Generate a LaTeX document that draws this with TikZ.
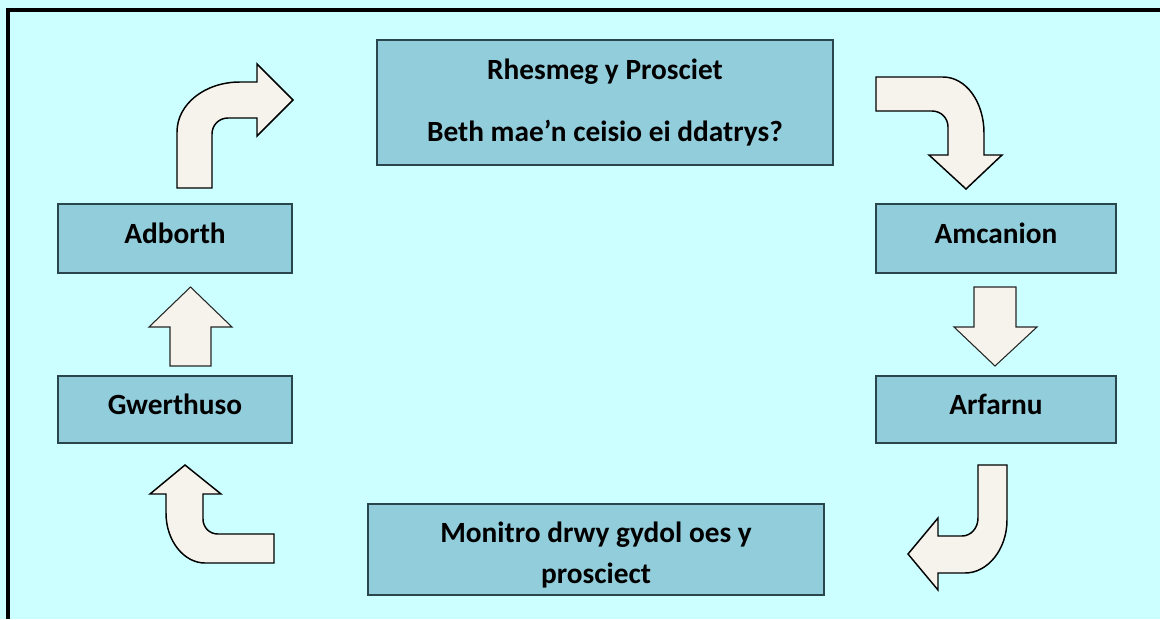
\documentclass[tikz,border=0pt]{standalone}
\usepackage{fontspec}
\setmainfont{Carlito}
\definecolor{bgcyan}{HTML}{CCFFFF}
\definecolor{boxfill}{HTML}{92CDDC}
\definecolor{boxline}{RGB}{40,70,75}
\definecolor{arrowfill}{HTML}{F5F3EC}
\begin{document}
\begin{tikzpicture}[x=0.75pt,y=-0.75pt,
  stagetext/.style={inner sep=0pt,align=center,font=\fontsize{22}{30.75}\selectfont\bfseries},
  stagebox/.style={draw=boxline,fill=boxfill,line width=1.1pt,stagetext},
  oneline/.style={text height=10pt,text depth=3.2pt},
  blockarrow/.style={draw=black,fill=arrowfill,line width=1.1pt,line join=miter},
  thinarrow/.style={draw=black!85,fill=arrowfill,line width=0.8pt,line join=miter}]
\fill[bgcyan] (0,0) rectangle (1160,619);
\useasboundingbox (0,0) rectangle (1160,619);
\draw[line width=3pt,line join=miter] (8,619) -- (8,10) -- (1160,10);

\node[stagebox,minimum width=342pt,minimum height=93.75pt] (rhesmeg) at (605,102.5)
  {Rhesmeg y Prosciet\\[16pt]Beth mae’n ceisio ei ddatrys?};
\node[stagebox,oneline,minimum width=180pt,minimum height=51.75pt] (amcanion) at (996,238.5) {Amcanion};
\node[stagebox,oneline,minimum width=180pt,minimum height=50.25pt] (arfarnu) at (996,409.5) {Arfarnu};
\node[stagebox,minimum width=342pt,minimum height=68.25pt] (monitro) at (596,549.5) {};
\node[stagetext] (monitrotext) at ([yshift=-4.5pt]monitro.center) {Monitro drwy gydol oes y\\prosciect};
\node[stagebox,oneline,minimum width=175.5pt,minimum height=50.25pt] (gwerthuso) at (175,409.5) {Gwerthuso};
\node[stagebox,oneline,minimum width=175.5pt,minimum height=51.75pt] (adborth) at (175,238.5) {Adborth};

% bent arrow: Adborth -> Rhesmeg
\draw[blockarrow] (177,188) -- (177,132) .. controls (177,104) and (205,82) .. (240,82)
  -- (257,82) -- (257,64) -- (293,100) -- (257,136) -- (257,118) -- (228,118)
  .. controls (219,118) and (212,125) .. (212,134) -- (212,188) -- cycle;
% bent arrow: Rhesmeg -> Amcanion
\draw[blockarrow] (876,77) -- (943,77) .. controls (966,77) and (984,102) .. (984,133)
  -- (984,155) -- (1002,155) -- (966,189) -- (929,155) -- (948,155) -- (948,127)
  .. controls (948,118) and (941,111) .. (932,111) -- (876,111) -- cycle;
% straight arrow: Amcanion -> Arfarnu
\draw[thinarrow] (974,287) -- (1016,287) -- (1016,327) -- (1037,327) -- (995,366)
  -- (954,327) -- (974,327) -- cycle;
% bent arrow: Arfarnu -> Monitro
\draw[blockarrow] (978,465) -- (1007,465) -- (1007,520) .. controls (1007,549) and (988,573) .. (965,573)
  -- (938,573) -- (938,590) -- (908,554) -- (938,518) -- (938,536) -- (962,536)
  .. controls (971,536) and (978,528) .. (978,518) -- cycle;
% bent arrow: Monitro -> Gwerthuso
\draw[blockarrow] (274,534) -- (218,534) .. controls (209,534) and (203,527) .. (203,519)
  -- (203,494) -- (221,494) -- (185,465) -- (150,494) -- (166,494) -- (166,513)
  .. controls (166,541) and (184,563) .. (205,563) -- (274,563) -- cycle;
% straight arrow: Gwerthuso -> Adborth
\draw[thinarrow] (170,366) -- (170,327) -- (149,327) -- (190.5,287) -- (232,327)
  -- (211,327) -- (211,366) -- cycle;
\end{tikzpicture}
\end{document}
